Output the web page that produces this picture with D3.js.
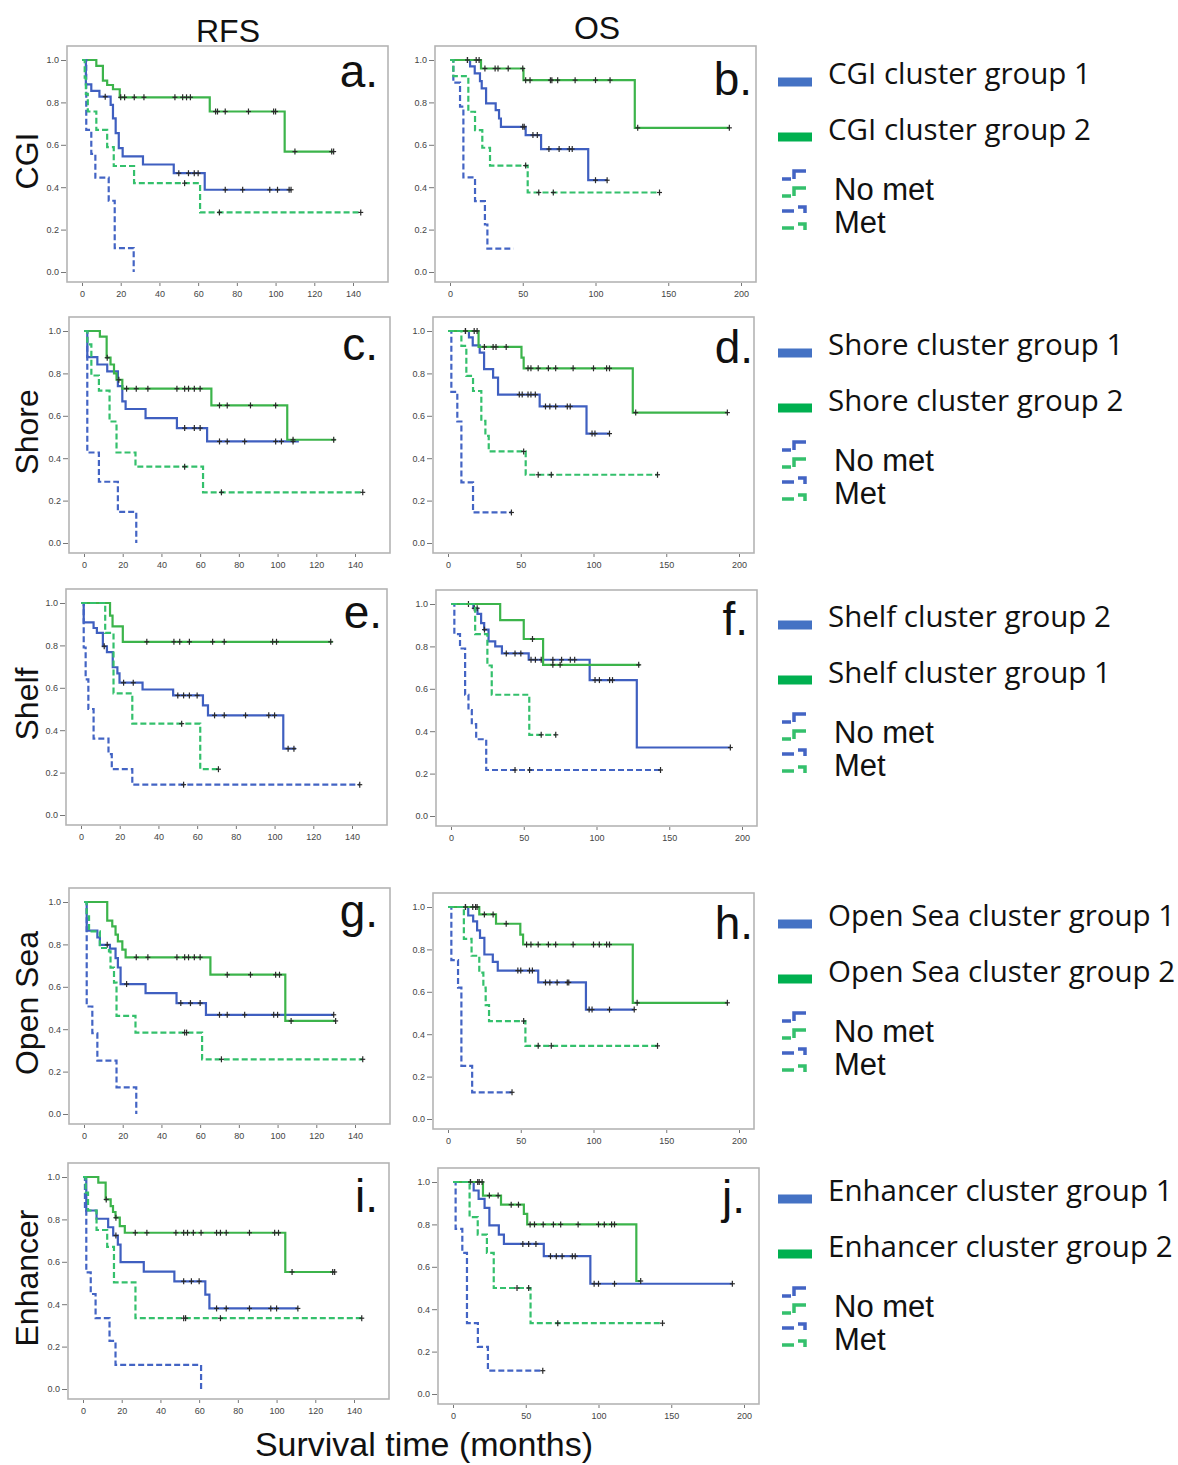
<!DOCTYPE html>
<meta charset="utf-8">
<style>
  body { margin: 0; background: #fff; }
  .frame { fill: none; stroke: #b4b4b4; stroke-width: 1.6; }
  .axis path { display: none; }
  .axis line { stroke: #777; }
  .axis text { font: 9px "Liberation Sans", Arial, sans-serif; fill: #444; }
  .letter { font: 46px "Liberation Sans", Arial, sans-serif; fill: #111; }
  .title { font: 32px "Liberation Sans", Arial, sans-serif; fill: #111; }
  .xtitle { font: 34px "Liberation Sans", Arial, sans-serif; fill: #111; }
  .leg { font: 29.5px "Open Sans", sans-serif; fill: #111; }
  .legmet { font: 31px "Liberation Sans", Arial, sans-serif; fill: #111; }
  .cens { stroke: #2a2a2a; stroke-width: 1.2; }
</style>
<svg width="1178" height="1465"></svg>
<script src="https://cdn.jsdelivr.net/npm/d3@7"></script>
<script>
  // ---- data: [time, survival] after each drop, censor times, last follow-up
  // a. RFS / CGI
  var aBlue = { km: [[0,1],[2,.885],[4.8,.854],[9,.827],[14.8,.788],[16,.725],[17.4,.655],[19,.584],[21,.545],[31.5,.507],[47.4,.466],[63.4,.388]], cens: [12,50,55,58,60,74,83,97,101,107,108], end: 108 };
  var aGreen = { km: [[0,1],[7.4,.972],[10.8,.903],[13,.882],[16,.862],[19.5,.824],[66,.757],[104.7,.568]], cens: [20,22,27,32,48,52,54,56,69,70,74,86,99,100,110,129,130], end: 130 };
  var aBlueMet = { km: [[0,1],[2.2,.67],[4.8,.557],[6.9,.445],[13.8,.336],[16.9,.113],[26.7,0]], cens: [], end: 26.7 };
  var aGreenMet = { km: [[0,1],[1.4,.917],[2,.84],[3,.757],[7.4,.67],[13,.589],[16.4,.5],[26.9,.419],[61,.281]], cens: [53,71,144], end: 144 };
  // b. OS / CGI
  var bBlue = { km: [[0,1],[13.8,.97],[17,.937],[20.6,.9],[21.8,.866],[24.8,.795],[31.4,.764],[33.7,.724],[35,.685],[52,.646],[62.6,.58],[95,.433]], cens: [12,50,51,57,60,68,75,82,84,100,108], end: 108 };
  var bGreen = { km: [[0,1],[21.3,.96],[50.5,.905],[127,.68]], cens: [12,18,20,24,31,33,40,50,52,55,69,70,74,86,100,110,129,192], end: 192 };
  var bBlueMet = { km: [[0,1],[2.3,.893],[6.9,.78],[9.2,.446],[17.2,.334],[24,.224],[25.7,.11]], cens: [], end: 43.6 };
  var bGreenMet = { km: [[0,1],[2.3,.924],[12.6,.756],[17.2,.669],[22.2,.586],[27.5,.502],[53.4,.375]], cens: [52,61,71,144], end: 144 };
  // c. RFS / Shore
  var cBlue = { km: [[0,1],[1.7,.877],[6.9,.842],[12,.81],[17.5,.74],[19.8,.668],[21.5,.632],[31.8,.589],[48,.542],[63.6,.479]], cens: [52,57,60,70,74,83,99,102,108], end: 111 };
  var cGreen = { km: [[0,1],[8.2,.973],[11.7,.874],[13.7,.842],[15.5,.8],[16.8,.77],[19.8,.728],[65.8,.649],[105,.487]], cens: [12,18,22,27,33,48,52,54,57,60,70,74,86,99,108,129], end: 130 };
  var cBlueMet = { km: [[0,1],[1.7,.427],[7.7,.289],[17.5,.147],[27,0]], cens: [], end: 27 };
  var cGreenMet = { km: [[0,1],[1.7,.937],[3.8,.79],[7.7,.719],[13.2,.573],[16.8,.427],[26.6,.36],[61.5,.239]], cens: [52,71,144], end: 144 };
  // d. OS / Shore
  var dBlue = { km: [[0,1],[14.4,.97],[17,.932],[21.8,.898],[24.8,.82],[31,.78],[34.4,.7],[63,.644],[95.2,.516]], cens: [12,49,51,55,57,60,67,70,74,82,84,99,101,111], end: 111 };
  var dGreen = { km: [[0,1],[21,.925],[50.5,.874],[52,.824],[127,.615]], cens: [12,18,20,25,31,33,40,55,57,62,69,74,86,100,109,111,129,192], end: 192 };
  var dBlueMet = { km: [[0,1],[2.3,.713],[6.4,.573],[9.2,.286],[17.2,.144]], cens: [43.6], end: 43.6 };
  var dGreenMet = { km: [[0,1],[9.2,.93],[12.6,.788],[17.2,.717],[22.9,.576],[25.7,.505],[28,.432],[53.4,.322]], cens: [52,62,71,144], end: 144 };
  // e. RFS / Shelf
  var eBlue = { km: [[0,1],[1.4,.909],[6.5,.882],[8.2,.859],[11.3,.796],[13.4,.768],[16.4,.697],[18.8,.668],[19.9,.624],[31.8,.592],[47.6,.564],[63,.517],[65.6,.47],[104.5,.313]], cens: [12,22,27,50,53,56,60,69,74,85,97,100,107,110], end: 111 };
  var eGreen = { km: [[0,1],[15,.94],[16.3,.89],[21.6,.817]], cens: [34,48,51,56,68,74,99,101,129], end: 130 };
  var eBlueMet = { km: [[0,1],[1.4,.79],[2.4,.64],[3.8,.5],[6.5,.36],[14.2,.287],[15.9,.216],[26.5,.143]], cens: [53,144], end: 144 };
  var eGreenMet = { km: [[0,1],[12.5,.859],[16.8,.574],[26.5,.431],[61.6,.216]], cens: [52,71], end: 72 };
  // f. OS / Shelf
  var fBlue = { km: [[0,1],[15.4,.98],[18.2,.953],[20.7,.91],[22.8,.879],[25.8,.824],[30.4,.8],[35,.767],[53.4,.737],[95.3,.641],[127.7,.323]], cens: [12,16,18,23,38,44,48,55,58,62,70,76,82,85,99,102,109,111,192], end: 192 };
  var fGreen = { km: [[0,1],[33.8,.924],[50,.835],[63.3,.713]], cens: [56,70,75,129], end: 130 };
  var fBlueMet = { km: [[0,1],[2.3,.858],[6.2,.79],[9.7,.572],[12,.5],[14.3,.433],[17.3,.362],[24.2,.217]], cens: [44,54,144], end: 144 };
  var fGreenMet = { km: [[0,1],[16.6,.858],[25,.71],[28,.572],[53.8,.383]], cens: [62,72], end: 72 };
  // g. RFS / Open Sea
  var gBlue = { km: [[0,1],[1.4,.865],[6.9,.833],[8.2,.798],[13.4,.78],[16.3,.735],[17.5,.691],[18.9,.613],[31.8,.57],[47.8,.523],[63,.468]], cens: [12,22,50,55,60,70,74,83,98,100,129], end: 129 };
  var gGreen = { km: [[0,1],[12,.912],[14.6,.885],[16.3,.846],[17.5,.814],[19.8,.775],[21.5,.739],[65.3,.657],[104,.439]], cens: [27,33,48,52,54,57,60,74,86,99,101,107,130], end: 130 };
  var gBlueMet = { km: [[0,1],[1.4,.507],[4.3,.381],[6.9,.252],[16.8,.126],[27,0]], cens: [], end: 27 };
  var gGreenMet = { km: [[0,1],[1.4,.932],[2.6,.861],[8.2,.783],[12.9,.767],[13.7,.69],[15.5,.62],[16.8,.463],[26.6,.384],[61,.258]], cens: [52,53,71,144], end: 144 };
  // h. OS / Open Sea
  var hBlue = { km: [[0,1],[13.9,.96],[17.3,.932],[20,.89],[22,.854],[25,.776],[30.8,.741],[34.2,.7],[62,.644],[94.8,.516]], cens: [12,48,50,56,58,67,70,75,82,83,97,99,111,128], end: 128 };
  var hGreen = { km: [[0,1],[21.5,.965],[33,.921],[49.7,.87],[51.6,.823],[127,.548]], cens: [12,17,19,20,25,31,40,54,57,62,69,74,86,100,104,109,111,130,192], end: 192 };
  var hBlueMet = { km: [[0,1],[2.3,.749],[6.9,.62],[9.2,.251],[16.6,.126]], cens: [44], end: 44 };
  var hGreenMet = { km: [[0,1],[10.9,.85],[16.2,.77],[21.5,.69],[24.3,.62],[25.9,.537],[28.2,.462],[53.2,.345]], cens: [52,62,71,144], end: 144 };
  // i. RFS / Enhancer
  var iBlue = { km: [[0,1],[1.7,.842],[7,.803],[13,.763],[15.6,.724],[18,.681],[19.4,.598],[31.4,.554],[47.2,.508],[63.2,.445],[65.3,.38]], cens: [17,52,56,60,69,74,86,97,100,111], end: 111 };
  var iGreen = { km: [[0,1],[7.9,.973],[11.7,.894],[14.3,.863],[15.5,.835],[16.8,.808],[19,.768],[21.6,.737],[104.5,.552]], cens: [12,17,27,33,48,52,54,57,61,69,71,74,86,99,101,108,129,130], end: 130 };
  var iBlueMet = { km: [[0,1],[1,.84],[1.7,.55],[4,.448],[6.5,.334],[13.7,.227],[16.8,.114],[61,0]], cens: [], end: 61 };
  var iGreenMet = { km: [[0,1],[1.4,.926],[2.6,.842],[7,.75],[12.5,.67],[16,.503],[27.1,.334]], cens: [52,53,71,144], end: 144 };
  // j. OS / Enhancer
  var jBlue = { km: [[0,1],[14.2,.96],[17.6,.92],[21.7,.878],[25,.795],[31.5,.752],[35,.708],[62.4,.65],[94.4,.52]], cens: [12,48,52,57,67,71,75,82,84,97,100,111,192], end: 192 };
  var jGreen = { km: [[0,1],[20.6,.936],[33,.893],[48.7,.85],[51,.8],[126,.533]], cens: [12,17,18,20,25,31,40,45,53,56,62,69,74,86,100,104,109,111,129], end: 129 };
  var jBlueMet = { km: [[0,1],[1.8,.779],[6.4,.666],[9.6,.334],[17.1,.222],[24,.11]], cens: [61.7], end: 61.7 };
  var jGreenMet = { km: [[0,1],[11.4,.834],[17,.752],[23.3,.666],[28,.5],[53.3,.334]], cens: [44,52,72,144], end: 144 };

  var colNames = ["RFS", "OS"];
  var rowNames = ["CGI", "Shore", "Shelf", "Open Sea", "Enhancer"];
  var legendNames = [
    ["CGI cluster group 1", "CGI cluster group 2"],
    ["Shore cluster group 1", "Shore cluster group 2"],
    ["Shelf cluster group 2", "Shelf cluster group 1"],
    ["Open Sea cluster group 1", "Open Sea cluster group 2"],
    ["Enhancer cluster group 1", "Enhancer cluster group 2"]
  ];
  var metNames = ["No met", "Met"];
  var rfsTicks = [0, 20, 40, 60, 80, 100, 120, 140];
  var osTicks = [0, 50, 100, 150, 200];
  var survTicks = [0, 0.2, 0.4, 0.6, 0.8, 1.0];
  var xTitle = "Survival time (months)";

  // ---- layout
  var W = 321, H = 236;
  var panels = [
    { letter: "a.", row: 0, col: 0, left: 67,  top: 46,   lx: 378, ly: 87,   curves: [aBlue, aGreen, aBlueMet, aGreenMet] },
    { letter: "b.", row: 0, col: 1, left: 435, top: 46,   lx: 752, ly: 95,   curves: [bBlue, bGreen, bBlueMet, bGreenMet] },
    { letter: "c.", row: 1, col: 0, left: 69,  top: 317,  lx: 378, ly: 360,  curves: [cBlue, cGreen, cBlueMet, cGreenMet] },
    { letter: "d.", row: 1, col: 1, left: 433, top: 317,  lx: 753, ly: 363,  curves: [dBlue, dGreen, dBlueMet, dGreenMet] },
    { letter: "e.", row: 2, col: 0, left: 66,  top: 589,  lx: 382, ly: 628,  curves: [eBlue, eGreen, eBlueMet, eGreenMet] },
    { letter: "f.", row: 2, col: 1, left: 436, top: 590,  lx: 748, ly: 635,  curves: [fBlue, fGreen, fBlueMet, fGreenMet] },
    { letter: "g.", row: 3, col: 0, left: 69,  top: 888,  lx: 378, ly: 927,  curves: [gBlue, gGreen, gBlueMet, gGreenMet] },
    { letter: "h.", row: 3, col: 1, left: 433, top: 893,  lx: 753, ly: 939,  curves: [hBlue, hGreen, hBlueMet, hGreenMet] },
    { letter: "i.", row: 4, col: 0, left: 68,  top: 1163, lx: 378, ly: 1212, curves: [iBlue, iGreen, iBlueMet, iGreenMet] },
    { letter: "j.", row: 4, col: 1, left: 438, top: 1168, lx: 745, ly: 1213, curves: [jBlue, jGreen, jBlueMet, jGreenMet] }
  ];
  var rowTops = [46, 317, 589, 888, 1163];

  // blue solid, green solid, blue dashed, green dashed
  var styles = [
    { color: "#3f5fc0", dash: null },
    { color: "#3cb44b", dash: null },
    { color: "#4364c4", dash: "6,3" },
    { color: "#34c06c", dash: "6,3" }
  ];

  var svg = d3.select("svg");

  panels.forEach(function(p) {
    var g = svg.append("g");
    var x = d3.scaleLinear()
      .domain(p.col === 0 ? [0, 140] : [0, 200])
      .range(p.col === 0 ? [p.left + 15, p.left + 286] : [p.left + 15, p.left + 306]);
    var y = d3.scaleLinear().domain([0, 1]).range([p.top + 226, p.top + 14]);

    g.append("rect").attr("class", "frame")
      .attr("x", p.left).attr("y", p.top).attr("width", W).attr("height", H);

    g.append("g").attr("class", "axis")
      .attr("transform", "translate(" + (p.left - 1) + ",0)")
      .call(d3.axisLeft(y).tickValues(survTicks).tickFormat(d3.format(".1f")).tickSize(5).tickPadding(2));

    g.append("g").attr("class", "axis")
      .attr("transform", "translate(0," + (p.top + H + 1) + ")")
      .call(d3.axisBottom(x).tickValues(p.col === 0 ? rfsTicks : osTicks).tickSize(3).tickPadding(5));

    var line = d3.line()
      .x(function(d) { return x(d[0]); })
      .y(function(d) { return y(d[1]); })
      .curve(d3.curveStepAfter);

    p.curves.forEach(function(c, i) {
      var last = c.km[c.km.length - 1];
      var pts = c.km.concat([[c.end, last[1]]]);
      var st = styles[i];
      g.append("path")
        .attr("d", line(pts))
        .attr("fill", "none")
        .attr("stroke", st.color)
        .attr("stroke-width", 2.2)
        .attr("stroke-dasharray", st.dash);

      c.cens.forEach(function(t) {
        var s = 1;
        c.km.forEach(function(k) { if (k[0] <= t) s = k[1]; });
        var cx = x(t), cy = y(s);
        g.append("line").attr("class", "cens")
          .attr("x1", cx).attr("x2", cx).attr("y1", cy - 3).attr("y2", cy + 3);
        g.append("line").attr("class", "cens")
          .attr("x1", cx - 2.5).attr("x2", cx + 2.5).attr("y1", cy).attr("y2", cy);
      });
    });

    g.append("text").attr("class", "letter")
      .attr("x", p.lx).attr("y", p.ly).attr("text-anchor", "end")
      .text(p.letter);
  });

  // column titles
  svg.selectAll(".coltitle").data(colNames).enter().append("text")
    .attr("class", "title")
    .attr("x", function(d, i) { return i === 0 ? 228 : 597; })
    .attr("y", function(d, i) { return i === 0 ? 42 : 39; })
    .attr("text-anchor", "middle")
    .text(function(d) { return d; });

  // row titles
  svg.selectAll(".rowtitle").data(rowNames).enter().append("text")
    .attr("class", "title")
    .attr("transform", function(d, i) { return "translate(38," + (rowTops[i] + 115) + ") rotate(-90)"; })
    .attr("text-anchor", "middle")
    .text(function(d) { return d; });

  svg.append("text").attr("class", "xtitle")
    .attr("x", 424).attr("y", 1456).attr("text-anchor", "middle")
    .text(xTitle);

  // legends
  rowTops.forEach(function(top, r) {
    var lg = svg.append("g");
    [0, 1].forEach(function(k) {
      lg.append("rect")
        .attr("x", 778).attr("y", top + (k === 0 ? 31.5 : 86.5))
        .attr("width", 34).attr("height", 9)
        .attr("fill", k === 0 ? "#4472c4" : "#00b050");
      lg.append("text").attr("class", "leg")
        .attr("x", 828).attr("y", top + (k === 0 ? 38 : 94))
        .text(legendNames[r][k]);
    });
    // no met icons (stepped dashes)
    [[top + 125, styles[2].color], [top + 142, styles[3].color]].forEach(function(ic) {
      lg.append("path")
        .attr("d", "M782," + (ic[0] + 8) + "H791M794," + (ic[0] + 8) + "V" + ic[0] + "H806")
        .attr("fill", "none").attr("stroke", ic[1]).attr("stroke-width", 3.5);
    });
    // met icons
    [[top + 161, styles[2].color], [top + 178, styles[3].color]].forEach(function(ic) {
      lg.append("path")
        .attr("d", "M782," + (ic[0] + 4) + "H794M798," + ic[0] + "H805V" + (ic[0] + 6))
        .attr("fill", "none").attr("stroke", ic[1]).attr("stroke-width", 3.5);
    });
    lg.append("text").attr("class", "legmet").attr("x", 834).attr("y", top + 154).text(metNames[0]);
    lg.append("text").attr("class", "legmet").attr("x", 834).attr("y", top + 187).text(metNames[1]);
  });
</script>
